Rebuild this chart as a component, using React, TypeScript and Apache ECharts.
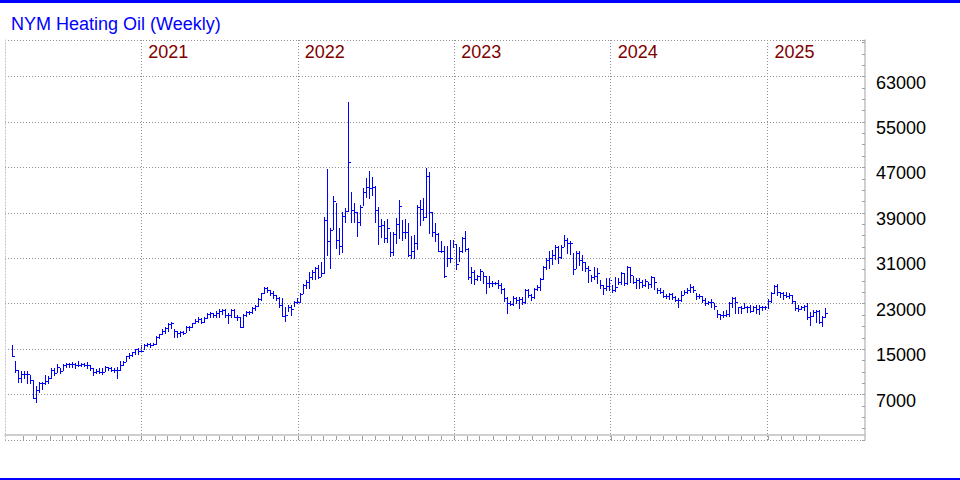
import React, { useEffect, useRef } from 'react';
import * as echarts from 'echarts';

const TITLE = 'NYM Heating Oil (Weekly)';
const FIRST_WEEK = '2020-03-06';
const YEARS = [2021, 2022, 2023, 2024, 2025];
const Y_LABELS = [7000, 15000, 23000, 31000, 39000, 47000, 55000, 63000];

const HIGH = [
  15750, 12930, 11340, 11170, 11170, 11170, 10460, 9580, 8580, 9290,
  9290, 10460, 10350, 11640, 11640, 12400, 11750, 12400, 12520, 12520,
  12810, 12520, 12930, 12640, 12640, 12700, 12220, 11640, 11520, 11640,
  11640, 12050, 11930, 11930, 11760, 11930, 12930, 12930, 13870, 14280,
  14570, 15040, 15160, 15750, 15920, 16160, 16040, 16160, 17330, 17680,
  18500, 18860, 19560, 19860, 18500, 18270, 18270, 18270, 19090, 19090,
  19680, 20270, 20620, 20440, 20740, 21320, 21620, 21440, 21790, 22030,
  22030, 22030, 21440, 22030, 22030, 21030, 20740, 21210, 21790, 21790,
  22380, 22790, 23970, 24960, 26020, 25900, 25430, 25320, 24550, 24140,
  23970, 22380, 22790, 22790, 23550, 23970, 24840, 26430, 27190, 28660,
  28950, 29540, 29830, 30300, 38340, 46740, 36290, 42040, 40690, 36290,
  39230, 39930, 58600, 42750, 40690, 39230, 40400, 43340, 45210, 46390,
  45390, 43810, 40110, 37930, 37580, 37930, 35590, 35700, 38050, 41280,
  37760, 37930, 37170, 35000, 35120, 40400, 41280, 41570, 46860, 46270,
  39110, 37170, 35410, 34120, 33180, 33180, 34240, 34240, 33530, 32950,
  34710, 35880, 32770, 29540, 28950, 28070, 29070, 28660, 27900, 27900,
  27080, 26900, 27190, 26610, 25730, 24140, 23550, 24380, 24140, 24260,
  24140, 25550, 25550, 24730, 25730, 26310, 27490, 29660, 31010, 32360,
  32480, 33360, 33180, 33360, 35120, 34530, 34120, 32010, 32360, 32360,
  31600, 30420, 29660, 28070, 29420, 29250, 27190, 26310, 27490, 27490,
  26310, 27660, 27490, 28660, 28480, 29660, 29540, 27900, 27490, 27490,
  27190, 27310, 26900, 27900, 27660, 25730, 25730, 25430, 24730, 24960,
  24960, 24380, 23970, 25320, 25430, 25730, 26490, 26140, 24850, 24730,
  24380, 23970, 23550, 23790, 23080, 21910, 21210, 21790, 21910, 23380,
  24260, 24140, 22500, 22610, 23200, 22610, 22790, 22610, 22790, 22790,
  22610, 22610, 23790, 25140, 26310, 26490, 25140, 25140, 25140, 24960,
  24550, 23550, 22790, 22610, 22790, 23080, 21620, 21910, 21910, 21910,
  20850, 22200,
];

const LOW = [
  13800, 11050, 9170, 9290, 9880, 9000, 9000, 6350, 5650, 7500,
  8000, 8820, 8990, 9880, 10460, 11050, 10750, 11340, 11930, 11930,
  11930, 11640, 12050, 12050, 12050, 11640, 11340, 10460, 10760, 10760,
  10580, 11170, 11340, 11170, 10940, 9990, 11340, 12220, 12930, 13520,
  13870, 14100, 14100, 14450, 14980, 15570, 15450, 15750, 15920, 16920,
  17680, 17800, 18270, 18680, 17210, 17100, 17330, 17680, 18100, 18390,
  18860, 19560, 19860, 19560, 19860, 20440, 20740, 20620, 20620, 20740,
  21210, 20740, 19560, 20740, 20620, 20150, 18980, 18980, 20850, 21210,
  21320, 21910, 22610, 23670, 24850, 25140, 24550, 23970, 23670, 22500,
  20850, 20030, 21790, 21030, 22610, 23080, 23260, 24840, 25840, 25840,
  27370, 27370, 27490, 27960, 28370, 31600, 29250, 36170, 32770, 31710,
  32060, 37350, 39340, 37470, 37470, 35000, 36880, 40400, 41870, 41690,
  42160, 37350, 33470, 34820, 33940, 33940, 31480, 31600, 33650, 34530,
  34240, 34530, 31480, 31010, 31010, 32650, 36880, 37760, 38350, 35410,
  35000, 34060, 32300, 32180, 27780, 29660, 30420, 33060, 29070, 30600,
  32180, 32360, 27310, 26610, 26490, 27190, 27190, 26610, 24850, 26020,
  26140, 26490, 25730, 24850, 23550, 21320, 22790, 22790, 23200, 22200,
  22970, 23080, 24260, 23670, 23970, 25430, 25430, 27310, 29070, 29250,
  30010, 30830, 30250, 31010, 33180, 31890, 31770, 28250, 29250, 29830,
  28950, 28840, 26900, 27080, 27310, 26610, 25730, 24730, 25430, 25430,
  25140, 25320, 26490, 26490, 26310, 26490, 26900, 26610, 25730, 25730,
  26020, 26140, 25730, 26020, 25550, 24850, 24850, 24140, 23970, 23790,
  23790, 23550, 22380, 23550, 24730, 24960, 25140, 25140, 23790, 23970,
  23380, 22790, 22970, 22500, 22030, 20740, 20270, 20740, 20850, 20850,
  22500, 21440, 21440, 21440, 22200, 21620, 21620, 21790, 21320, 21210,
  21910, 22030, 22200, 23380, 24960, 24550, 24140, 23790, 24260, 23970,
  23080, 21910, 21790, 22030, 21910, 20270, 19270, 20850, 19860, 19680,
  19090, 20740,
];

const CLOSE = [
  13800, 11340, 9870, 10640, 10640, 10640, 9580, 6350, 7800, 8990,
  8990, 9400, 9880, 11340, 10760, 11930, 11170, 12220, 12400, 12300,
  12340, 12220, 12220, 12340, 12220, 12220, 11640, 11050, 11170, 10940,
  11050, 11930, 11760, 11340, 11340, 11340, 12220, 12810, 13870, 13980,
  14450, 15040, 14690, 14690, 15750, 15920, 15750, 15920, 17100, 17680,
  18270, 18680, 19450, 19680, 18270, 17920, 18100, 17920, 18860, 18860,
  19560, 20030, 20270, 19860, 20440, 21210, 21320, 21030, 21440, 21790,
  21910, 21030, 21030, 21910, 20740, 20620, 18980, 21030, 21620, 21620,
  22200, 22610, 23790, 24850, 25730, 25430, 24960, 24550, 23970, 22790,
  20850, 21030, 22500, 22030, 23380, 23380, 24790, 26310, 26900, 27780,
  28660, 29250, 27780, 28370, 37760, 34060, 36000, 41100, 34240, 33240,
  38520, 39340, 47910, 39520, 39230, 37470, 40110, 42750, 43630, 43340,
  43630, 39520, 36760, 36880, 34530, 36290, 32180, 35230, 37000, 40280,
  35700, 35700, 31600, 32300, 33650, 40110, 39700, 38350, 45570, 39230,
  35590, 35230, 32300, 32360, 27900, 31010, 31010, 33530, 30010, 32360,
  34530, 32590, 27660, 28660, 27310, 27900, 28840, 27900, 26720, 26610,
  26720, 26610, 26310, 25550, 23970, 23080, 22970, 23970, 23670, 23790,
  23380, 25430, 24550, 24140, 25550, 26020, 27310, 29420, 30720, 31010,
  31600, 33060, 31300, 33060, 34240, 33770, 33650, 29070, 31890, 30720,
  30420, 29250, 28950, 27660, 27900, 28370, 26310, 25730, 26140, 27190,
  25430, 26020, 26900, 28480, 26610, 29540, 28070, 26900, 27190, 26900,
  26310, 27080, 26490, 27660, 26900, 25430, 25140, 24380, 24380, 24730,
  24140, 23670, 23670, 24550, 25140, 25430, 25900, 25430, 24380, 24380,
  23670, 23200, 23380, 23380, 22610, 21210, 21030, 21030, 21210, 23080,
  23970, 23380, 22380, 22200, 22380, 22380, 21790, 22380, 22030, 22380,
  22380, 22380, 23550, 24850, 26140, 25140, 24850, 24550, 24380, 24550,
  23550, 22200, 22030, 22380, 22610, 20740, 20850, 21620, 21790, 19860,
  20740, 21440,
];

const FONT = '"Liberation Sans", Arial, sans-serif';
const BLUE = '#0000ff';
const DAY = 86400000;
const WEEK = 7 * DAY;

export default function App() {
  const ref = useRef<HTMLDivElement>(null);

  useEffect(() => {
    const chart = echarts.init(ref.current!, null, { renderer: 'svg' });
    const t0 = Date.parse(FIRST_WEEK + 'T00:00:00Z');
    const bars = CLOSE.map((c, i) => [t0 + i * WEEK, HIGH[i], LOW[i], c]);
    const xMin = t0 - 2.43 * WEEK;
    const xMax = t0 + 284.2 * WEEK;
    const lastT = t0 + (CLOSE.length - 1) * WEEK;
    const months: number[][] = [];
    for (let y = 2020; y <= 2025; y++) {
      for (let m = 0; m < 12; m++) {
        const t = Date.UTC(y, m, 1);
        if (t >= t0 && t <= lastT + WEEK) months.push([t, -1000]);
      }
    }

    chart.setOption({
      animation: false,
      title: {
        text: TITLE,
        left: 6,
        top: 10,
        textStyle: { color: BLUE, fontSize: 18, fontWeight: 'normal', fontFamily: FONT },
      },
      grid: { left: 5, right: 95, top: 40, bottom: 40, containLabel: false },
      xAxis: {
        type: 'time',
        min: xMin,
        max: xMax,
        axisLine: { show: true, lineStyle: { color: '#c0c0c0', width: 1.5 } },
        axisTick: { show: false },
        axisLabel: { show: false },
        splitLine: { show: false },
      },
      yAxis: [
        {
          type: 'value',
          position: 'right',
          min: -1000,
          max: 69440,
          interval: 8000,
          axisLine: { show: true, lineStyle: { color: '#c0c0c0', width: 1.5 } },
          axisTick: { show: true, inside: true, length: 3, lineStyle: { color: '#a0a0a0' } },
          minorTick: { show: true, splitNumber: 4, length: 3, lineStyle: { color: '#a0a0a0' } },
          axisLabel: {
            formatter: (v: number) => (Y_LABELS.includes(v) ? String(v) : ''),
            color: '#000',
            fontSize: 18,
            fontFamily: FONT,
            margin: 11,
            verticalAlign: 'top',
            lineHeight: 12,
          },
          splitLine: { show: true, lineStyle: { color: '#909090', type: [1, 2], width: 1 } },
        },
        {
          type: 'value',
          position: 'left',
          min: -1000,
          max: 69440,
          interval: 8000,
          axisLine: { show: true, lineStyle: { color: '#c0c0c0', type: [1, 2], width: 1 } },
          axisTick: { show: false },
          axisLabel: { show: false },
          splitLine: { show: false },
        },
      ],
      series: [
        {
          type: 'custom',
          name: 'HO',
          xAxisIndex: 0,
          yAxisIndex: 0,
          dimensions: ['t', 'high', 'low', 'close'],
          encode: { x: 0, y: [1, 2, 3] },
          data: bars,
          renderItem: (params: any, api: any) => {
            const t = api.value(0);
            const h = api.coord([t, api.value(1)]);
            const l = api.coord([t, api.value(2)]);
            const c = api.coord([t, api.value(3)]);
            const x = Math.round(h[0]) + 0.5;
            const yc = Math.round(c[1]) + 0.5;
            return {
              type: 'group',
              children: [
                {
                  type: 'line',
                  shape: { x1: x, y1: Math.round(h[1]), x2: x, y2: Math.round(l[1]) + 1 },
                  style: { stroke: BLUE, lineWidth: 1 },
                },
                {
                  type: 'line',
                  shape: { x1: x - 0.5, y1: yc, x2: x + 2.5, y2: yc },
                  style: { stroke: BLUE, lineWidth: 1 },
                },
              ],
            };
          },
          markLine: {
            silent: true,
            symbol: ['none', 'none'],
            label: { show: false },
            lineStyle: { color: '#909090', type: [1, 2], width: 1 },
            data: YEARS.map((y) => ({ xAxis: Date.UTC(y, 0, 1) })),
          },
          z: 3,
        },
        {
          type: 'custom',
          name: 'months',
          xAxisIndex: 0,
          yAxisIndex: 0,
          data: months,
          renderItem: (params: any, api: any) => {
            const p = api.coord([api.value(0), api.value(1)]);
            const x = Math.round(p[0]) + 0.5;
            return {
              type: 'line',
              shape: { x1: x, y1: p[1] - 4, x2: x, y2: p[1] },
              style: { stroke: '#a0a0a0', lineWidth: 1 },
            };
          },
          z: 2,
        },
      ],
    });

    const yearTexts = YEARS.map((y) => {
      const px = chart.convertToPixel({ xAxisIndex: 0 }, Date.UTC(y, 0, 1)) as number;
      return {
        type: 'text',
        x: px + 7,
        y: 43,
        style: {
          text: String(y),
          fill: '#800000',
          fontSize: 18,
          fontFamily: FONT,
          verticalAlign: 'top',
        },
      };
    });

    chart.setOption({
      graphic: [
        { type: 'rect', shape: { x: 0, y: 0, width: 960, height: 3 }, style: { fill: BLUE } },
        { type: 'rect', shape: { x: 0, y: 478, width: 960, height: 2 }, style: { fill: BLUE } },
        ...yearTexts,
      ],
    });

    return () => chart.dispose();
  }, []);

  return (
    <div
      ref={ref}
      style={{ position: 'fixed', left: 0, top: 0, width: 960, height: 480, background: '#fff' }}
    />
  );
}
